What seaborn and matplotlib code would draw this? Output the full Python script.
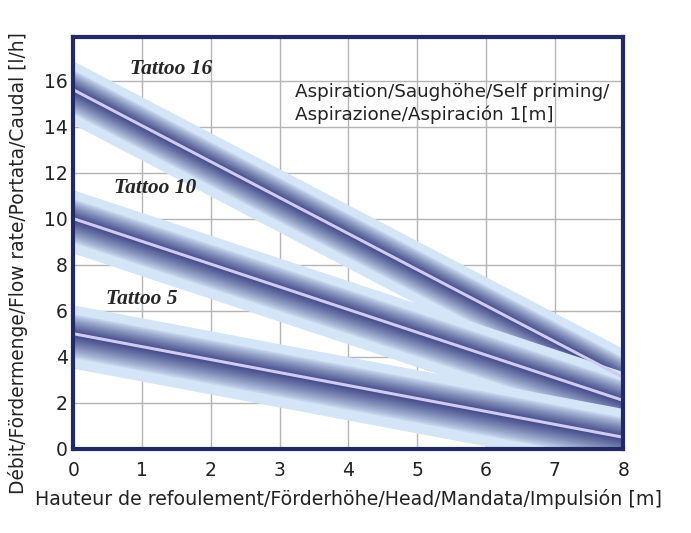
import matplotlib
matplotlib.use("Agg")
import matplotlib.pyplot as plt
import matplotlib.colors as mcolors
import numpy as np
import pandas as pd
import seaborn as sns

# values
head = [0, 8]
tattoo16 = [15.6, 3.1]
tattoo10 = [10.0, 2.1]
tattoo5 = [5.0, 0.5]
labels = ["Tattoo 16", "Tattoo 10", "Tattoo 5"]
label_pos = [(0.82, 16.5), (0.6, 11.35), (0.48, 6.5)]

xticks = list(range(0, 9))
yticks = list(range(0, 17, 2))

LIGHT = np.array(mcolors.to_rgb("#d3e5f7"))
DARK = np.array(mcolors.to_rgb("#3e4585"))
CENTER = "#cfcbf3"
FRAME = "#222a66"


def draw_band(ax, x, y, up=1.25, low=1.5, n=50):
    x = np.asarray(x, dtype=float)
    y = np.asarray(y, dtype=float)
    for d in np.linspace(1.0, 0.02, n):
        if d > 0.72:
            c = LIGHT
        else:
            k = (1 - d / 0.72) ** 0.8
            c = LIGHT + (DARK - LIGHT) * k
        ax.fill_between(x, y - low * d, y + up * d, color=c, lw=0)


sns.set_style("white")
plt.rcParams['font.family'] = ['DejaVu Sans']

fig = plt.figure(figsize=(6.91, 5.33), dpi=100)
ax = fig.add_axes([0.106, 0.158, 0.796, 0.773])

for v in xticks:
    ax.axvline(v, color="#b4b4b4", lw=1, zorder=0)
for v in yticks:
    ax.axhline(v, color="#b4b4b4", lw=1, zorder=0)

df = pd.DataFrame({
    "head": head * 3,
    "flow": tattoo16 + tattoo10 + tattoo5,
    "model": [labels[0]] * 2 + [labels[1]] * 2 + [labels[2]] * 2,
})

for name in labels:
    sub = df[df["model"] == name]
    draw_band(ax, sub["head"], sub["flow"])

sns.lineplot(data=df, x="head", y="flow", units="model", estimator=None,
             color=CENTER, lw=2.2, ax=ax, legend=False, zorder=5)

for name, (tx, ty) in zip(labels, label_pos):
    ax.text(tx, ty, name, family="Liberation Serif", style="italic",
            weight="bold", fontsize=15.5, va="center", ha="left", zorder=6)

ax.text(3.23, 15.0, "Aspiration/Saughöhe/Self priming/\nAspirazione/Aspiración 1[m]",
        fontsize=13.2, va="center", ha="left", color="#222222", linespacing=1.35, zorder=6)

ax.set_xlim(0, 8)
ax.set_ylim(0, 17.9)
ax.set_xticks(xticks)
ax.set_yticks(yticks)
ax.tick_params(axis="both", length=0, labelsize=13.5, colors="#222222")
ax.tick_params(axis="x", pad=9)
ax.tick_params(axis="y", pad=4)
ax.set_xlabel("Hauteur de refoulement/Förderhöhe/Head/Mandata/Impulsión [m]",
              fontsize=13.7, color="#222222", labelpad=6)
ax.set_ylabel("Débit/Fördermenge/Flow rate/Portata/Caudal [l/h]",
              fontsize=13.4, color="#222222", labelpad=4)
ax.yaxis.set_label_coords(-0.083, 0.45)

for side in ["left", "right", "top", "bottom"]:
    ax.spines[side].set_visible(True)
    ax.spines[side].set_color(FRAME)
    ax.spines[side].set_linewidth(3)
    ax.spines[side].set_zorder(10)

fig.savefig("out.png", dpi=100)
